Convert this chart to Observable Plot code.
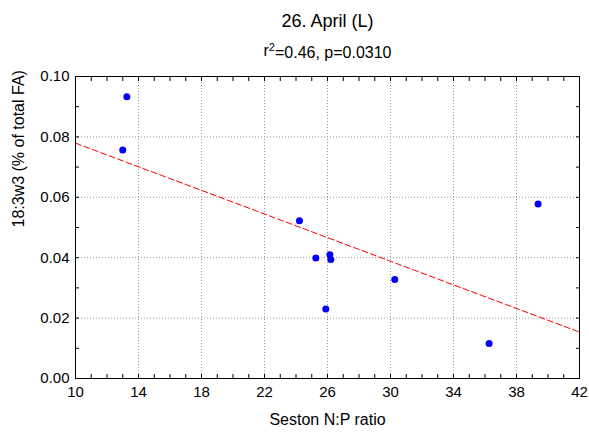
<!DOCTYPE html>
<html>
<head>
<meta charset="utf-8">
<script src="https://cdn.jsdelivr.net/npm/d3@7"></script>
<script src="https://cdn.jsdelivr.net/npm/@observablehq/plot@0.6"></script>
<style>
  html, body { margin: 0; padding: 0; background: #fff; }
</style>
</head>
<body>
<div id="chart"></div>
<script>
const title = "26. April (L)";
const subtitle = "r2=0.46, p=0.0310";
const xLabel = "Seston N:P ratio";
const yLabel = "18:3w3 (% of total FA)";

const npRatio = [13.26, 13.0, 24.22, 25.26, 26.15, 26.21, 25.89, 30.27, 36.26, 39.37];
const fa18_3w3 = [0.0933, 0.0757, 0.0522, 0.0399, 0.0410, 0.0394, 0.0230, 0.0328, 0.0116, 0.0578];

const xTicks = [10, 14, 18, 22, 26, 30, 34, 38, 42];
const yTicks = [0.00, 0.02, 0.04, 0.06, 0.08, 0.10];
const xMinor = d3.range(10, 43, 1);
const yMinor = d3.range(0, 0.1001, 0.01);
const xDomain = [10, 42];
const yDomain = [0, 0.1];

const points = npRatio.map((x, i) => ({x, y: fa18_3w3[i]}));

// least-squares fit from the data, drawn across the full x domain
const mx = d3.mean(npRatio), my = d3.mean(fa18_3w3);
const sxy = d3.sum(points, d => (d.x - mx) * (d.y - my));
const sxx = d3.sum(points, d => (d.x - mx) ** 2);
const slope = sxy / sxx, intercept = my - slope * mx;
const fit = xDomain.map(x => ({x, y: intercept + slope * x}));

const font = "'Liberation Sans', Arial, Helvetica, sans-serif";

const chart = Plot.plot({
  width: 589,
  height: 433,
  marginLeft: 75,
  marginRight: 10,
  marginTop: 76,
  marginBottom: 55,
  style: {fontFamily: font, fontSize: "15px", color: "#000", background: "#fff"},
  x: {domain: xDomain},
  y: {domain: yDomain},
  marks: [
    Plot.gridX(xTicks, {stroke: "#999", strokeOpacity: 1, strokeDasharray: "1,2"}),
    Plot.gridY(yTicks, {stroke: "#999", strokeOpacity: 1, strokeDasharray: "1,2"}),
    Plot.axisX(xMinor, {anchor: "bottom", tickSize: -4, tickFormat: () => "", label: null}),
    Plot.axisX(xMinor, {anchor: "top", tickSize: -4, tickFormat: () => "", label: null}),
    Plot.axisY(yMinor, {anchor: "left", tickSize: -4, tickFormat: () => "", label: null}),
    Plot.axisY(yMinor, {anchor: "right", tickSize: -4, tickFormat: () => "", label: null}),
    Plot.axisX(xTicks, {anchor: "bottom", tickSize: 0, tickPadding: 8, label: null, fontSize: 15}),
    Plot.axisY(yTicks, {anchor: "left", tickSize: 0, tickPadding: 6, label: null, tickFormat: d3.format(".2f"), fontSize: 15}),
    Plot.line(fit, {x: "x", y: "y", stroke: "#ff0000", strokeWidth: 1, strokeDasharray: "6,3"}),
    Plot.dot(points, {x: "x", y: "y", r: 3.5, fill: "#0000ff", stroke: "none"}),
    Plot.frame({stroke: "#000", strokeWidth: 1}),
    Plot.text([title], {frameAnchor: "top", lineAnchor: "middle", dy: -55, fontSize: 18, fill: "#000"}),
    Plot.text([subtitle], {frameAnchor: "top", lineAnchor: "middle", dy: -26, fontSize: 16, fill: "#000", className: "subtitle"}),
    Plot.text([xLabel], {frameAnchor: "bottom", lineAnchor: "middle", dy: 41, fontSize: 16, fill: "#000"}),
    Plot.text([yLabel], {frameAnchor: "left", lineAnchor: "middle", dx: -57, rotate: -90, fontSize: 16, fill: "#000"})
  ]
});
document.getElementById("chart").appendChild(chart);

// render the "2" of r2 as a superscript
chart.querySelectorAll("text").forEach(t => {
  if (t.textContent === subtitle) {
    const ns = "http://www.w3.org/2000/svg";
    t.textContent = "r";
    const sup = document.createElementNS(ns, "tspan");
    sup.setAttribute("dy", "-0.45em");
    sup.setAttribute("font-size", "11");
    sup.textContent = "2";
    const rest = document.createElementNS(ns, "tspan");
    rest.setAttribute("dy", "0.45em");
    rest.textContent = "=0.46, p=0.0310";
    t.appendChild(sup);
    t.appendChild(rest);
  }
});
</script>
</body>
</html>
